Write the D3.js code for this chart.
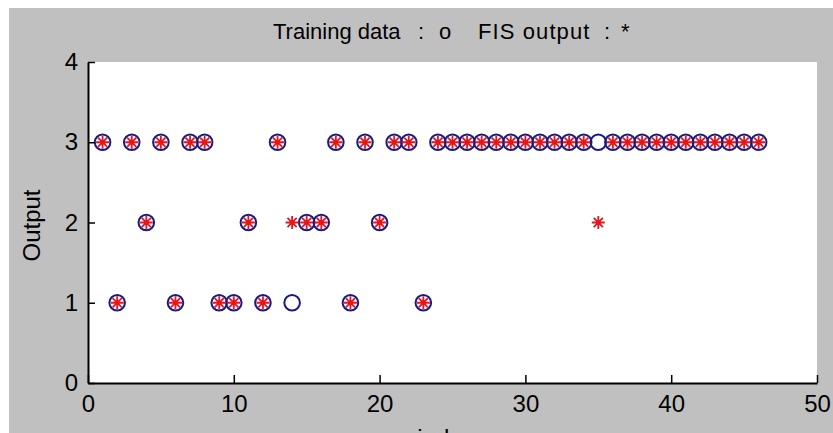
<!DOCTYPE html>
<html>
<head>
<meta charset="utf-8">
<script src="https://cdn.jsdelivr.net/npm/d3@7/dist/d3.min.js"></script>
<style>
  html, body { margin: 0; padding: 0; background: #ffffff; }
  svg { display: block; }
  text { font-family: "Liberation Sans", Arial, sans-serif; fill: #000; }
</style>
</head>
<body>
<svg id="chart" width="833" height="433"></svg>
<script>
// Sample index along the x axis
const sampleIndex = [
  1, 2, 3, 4, 5, 6, 7, 8, 9, 10, 11, 12, 13, 14, 15, 16, 17, 18, 19, 20, 21, 22, 23,
  24, 25, 26, 27, 28, 29, 30, 31, 32, 33, 34, 35, 36, 37, 38, 39, 40, 41, 42, 43, 44, 45, 46
];
// Training data targets (drawn as circles)
const trainingOutput = [
  3, 1, 3, 2, 3, 1, 3, 3, 1, 1, 2, 1, 3, 1, 2, 2, 3, 1, 3, 2, 3, 3, 1,
  3, 3, 3, 3, 3, 3, 3, 3, 3, 3, 3, 3, 3, 3, 3, 3, 3, 3, 3, 3, 3, 3, 3
];
// FIS output (drawn as asterisks)
const fisOutput = [
  3, 1, 3, 2, 3, 1, 3, 3, 1, 1, 2, 1, 3, 2, 2, 2, 3, 1, 3, 2, 3, 3, 1,
  3, 3, 3, 3, 3, 3, 3, 3, 3, 3, 3, 2, 3, 3, 3, 3, 3, 3, 3, 3, 3, 3, 3
];
const xTicks = [0, 10, 20, 30, 40, 50];
const yTicks = [0, 1, 2, 3, 4];
// Title pieces, laid out with the wide spacing of the figure's title font
const titleParts = ["Training data ", ": ", "o   ", "FIS output ", ": ", "*"];
const yLabelText = "Output";
const xLabelText = "index";

const W = 833, H = 433;
const plot = { left: 88, right: 817, top: 62, bottom: 383 };

const svg = d3.select("#chart");

// Figure background
svg.append("rect").attr("x", 9).attr("y", 8)
  .attr("width", W - 9).attr("height", H - 8).attr("fill", "#c0c0c0");

// Axes background
svg.append("rect")
  .attr("x", plot.left).attr("y", plot.top)
  .attr("width", plot.right - plot.left).attr("height", plot.bottom - plot.top)
  .attr("fill", "#ffffff");

const x = d3.scaleLinear().domain([0, 50]).range([plot.left, plot.right]);
const y = d3.scaleLinear().domain([0, 4]).range([plot.bottom, plot.top]);

const points = sampleIndex.map((d, i) => ({ idx: d, train: trainingOutput[i], fis: fisOutput[i] }));

// Training data circles
svg.append("g").selectAll("circle").data(points).join("circle")
  .attr("cx", d => x(d.idx))
  .attr("cy", d => y(d.train))
  .attr("r", 7.8)
  .attr("fill", "none")
  .attr("stroke", "#1a1a86")
  .attr("stroke-width", 2);

// FIS output asterisks
const star = svg.append("g").selectAll("g").data(points).join("g")
  .attr("transform", d => `translate(${x(d.idx)},${y(d.fis)})`);
const arm = 6.5, diag = 4.6;
const starPath = `M${-arm},0H${arm}M0,${-arm}V${arm}M${-diag},${-diag}L${diag},${diag}M${-diag},${diag}L${diag},${-diag}`;
star.append("path")
  .attr("d", starPath)
  .attr("stroke", "#e8141c")
  .attr("stroke-width", 1.8)
  .attr("fill", "none");
star.append("circle").attr("r", 2.2).attr("fill", "#e8141c");

// Axes with inward ticks
const xAxis = d3.axisBottom(x).tickValues(xTicks).tickFormat(d3.format("d"))
  .tickSizeInner(-8).tickSizeOuter(0).tickPadding(12);
const yAxis = d3.axisLeft(y).tickValues(yTicks).tickFormat(d3.format("d"))
  .tickSizeInner(-7).tickSizeOuter(0).tickPadding(10);

const gx = svg.append("g").attr("transform", `translate(0,${plot.bottom})`).call(xAxis);
const gy = svg.append("g").attr("transform", `translate(${plot.left},0)`).call(yAxis);

[gx, gy].forEach(g => {
  g.select(".domain").attr("stroke", "#000").attr("stroke-width", 2);
  g.selectAll(".tick line").attr("stroke", "#000").attr("stroke-width", 1.5);
  g.selectAll(".tick text")
    .style("font-family", '"Liberation Sans", Arial, sans-serif')
    .style("font-size", "24px")
    .attr("fill", "#000");
});

// Title
const titleX = [273, 418, 439, 478, 604, 621];
const titleSpacing = [0, 0, 0, 1.1, 0, 0];
svg.append("text")
  .attr("y", 39)
  .style("font-size", "22px")
  .selectAll("tspan").data(titleParts).join("tspan")
  .attr("x", (d, i) => titleX[i])
  .style("letter-spacing", (d, i) => titleSpacing[i] + "px")
  .text(d => d);

// Y label
svg.append("text")
  .attr("transform", `translate(40,${(plot.top + plot.bottom) / 2 + 3}) rotate(-90)`)
  .attr("text-anchor", "middle")
  .style("font-size", "24px")
  .text(yLabelText);

// X label (sits mostly below the visible area)
svg.append("text")
  .attr("x", 446)
  .attr("y", 445.5)
  .attr("text-anchor", "middle")
  .style("font-size", "24px")
  .text(xLabelText);
</script>
</body>
</html>
